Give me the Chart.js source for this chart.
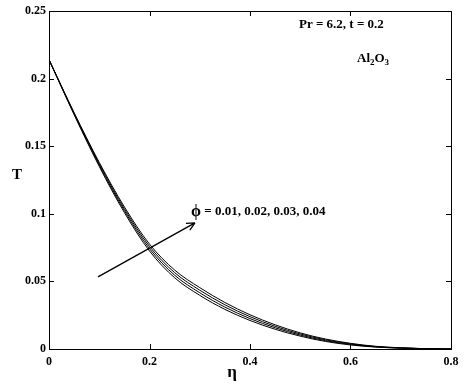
<!DOCTYPE html>
<html>
<head>
<meta charset="utf-8">
<script src="https://cdn.jsdelivr.net/npm/chart.js@4"></script>
<style>
  html, body { margin: 0; padding: 0; background: #fff; }
  #wrap { width: 474px; height: 390px; }
</style>
</head>
<body>
<div id="wrap"><canvas id="myChart" width="474" height="390"></canvas></div>
<script>
var eta = [0, 0.05, 0.1, 0.15, 0.2, 0.25, 0.3, 0.35, 0.4, 0.45, 0.5, 0.55, 0.6, 0.65, 0.7, 0.75, 0.8];
var phiLabels = ['0.01', '0.02', '0.03', '0.04'];
var T_phi1 = [0.214, 0.1733, 0.1350, 0.1009, 0.0725, 0.0527, 0.0397, 0.0293, 0.0211, 0.0146, 0.0095, 0.0056, 0.0030, 0.0014, 0.0006, 0.0002, 0];
var T_phi2 = [0.214, 0.1738, 0.1360, 0.1023, 0.0742, 0.0546, 0.0416, 0.0310, 0.0225, 0.0157, 0.0103, 0.0062, 0.0034, 0.0016, 0.0007, 0.0002, 0];
var T_phi3 = [0.214, 0.1743, 0.1370, 0.1037, 0.0759, 0.0565, 0.0435, 0.0327, 0.0239, 0.0168, 0.0111, 0.0068, 0.0038, 0.0018, 0.0008, 0.0002, 0];
var T_phi4 = [0.214, 0.1748, 0.1380, 0.1051, 0.0776, 0.0584, 0.0454, 0.0344, 0.0253, 0.0179, 0.0119, 0.0074, 0.0042, 0.0020, 0.0009, 0.0002, 0];
var xTicks = [0, 0.2, 0.4, 0.6, 0.8];
var xTickLabels = ['0', '0.2', '0.4', '0.6', '0.8'];
var yTicks = [0, 0.05, 0.1, 0.15, 0.2, 0.25];
var yTickLabels = ['0', '0.05', '0.1', '0.15', '0.2', '0.25'];
// arrow in data coordinates [eta, T]
var arrowFrom = [0.0975, 0.0533];
var arrowTo = [0.2905, 0.0933];

var serif = "'Liberation Serif', 'DejaVu Serif', serif";

function toPoints(vals) {
    return eta.map(function (x, i) { return { x: x, y: vals[i] }; });
}

var allSeries = [T_phi1, T_phi2, T_phi3, T_phi4];
var datasets = allSeries.map(function (vals, i) {
    return {
        label: '\u03d5 = ' + phiLabels[i],
        data: toPoints(vals),
        borderColor: '#000',
        borderWidth: 1,
        pointRadius: 0,
        fill: false,
        cubicInterpolationMode: 'monotone'
    };
});

// box, inward ticks, axis titles and annotations
var decorPlugin = {
    id: 'decor',
    afterDraw: function (chart) {
        var ctx = chart.ctx;
        var xs = chart.scales.x, ys = chart.scales.y;
        var a = chart.chartArea;
        ctx.save();
        ctx.strokeStyle = '#000';
        ctx.lineWidth = 1;
        ctx.strokeRect(a.left + 0.5, a.top + 0.5, a.right - a.left, a.bottom - a.top);
        ctx.beginPath();
        xTicks.forEach(function (v) {
            var px = Math.round(xs.getPixelForValue(v)) + 0.5;
            ctx.moveTo(px, a.bottom); ctx.lineTo(px, a.bottom - 5);
            ctx.moveTo(px, a.top); ctx.lineTo(px, a.top + 5);
        });
        yTicks.forEach(function (v) {
            var py = Math.round(ys.getPixelForValue(v)) + 0.5;
            ctx.moveTo(a.left, py); ctx.lineTo(a.left + 5, py);
            ctx.moveTo(a.right, py); ctx.lineTo(a.right - 5, py);
        });
        ctx.stroke();

        // arrow
        var x1 = xs.getPixelForValue(arrowFrom[0]), y1 = ys.getPixelForValue(arrowFrom[1]);
        var x2 = xs.getPixelForValue(arrowTo[0]), y2 = ys.getPixelForValue(arrowTo[1]);
        var ang = Math.atan2(y2 - y1, x2 - x1);
        ctx.lineWidth = 1.3;
        ctx.beginPath();
        ctx.moveTo(x1, y1); ctx.lineTo(x2, y2);
        ctx.moveTo(x2, y2); ctx.lineTo(x2 - 9 * Math.cos(ang - 0.45), y2 - 9 * Math.sin(ang - 0.45));
        ctx.moveTo(x2, y2); ctx.lineTo(x2 - 9 * Math.cos(ang + 0.45), y2 - 9 * Math.sin(ang + 0.45));
        ctx.stroke();

        ctx.fillStyle = '#000';
        ctx.textBaseline = 'middle';
        // axis titles
        ctx.textAlign = 'center';
        ctx.font = 'bold 17px ' + serif;
        ctx.fillText('\u03b7', 232, 373);
        ctx.font = 'bold 15px ' + serif;
        ctx.fillText('T', 17, 175);

        // annotations
        ctx.textAlign = 'left';
        ctx.font = 'bold 13px ' + serif;
        ctx.fillText('Pr = 6.2, t = 0.2', 299, 25);
        var ax = 357, ay = 59;
        ctx.fillText('Al', ax, ay);
        ax += ctx.measureText('Al').width;
        ctx.font = 'bold 9px ' + serif;
        ctx.fillText('2', ax, ay + 4);
        ax += ctx.measureText('2').width;
        ctx.font = 'bold 13px ' + serif;
        ctx.fillText('O', ax, ay);
        ax += ctx.measureText('O').width;
        ctx.font = 'bold 9px ' + serif;
        ctx.fillText('3', ax, ay + 4);

        ctx.font = 'bold 16px ' + serif;
        ctx.fillText('\u03d5', 191, 212);
        var px0 = 191 + ctx.measureText('\u03d5').width;
        ctx.font = 'bold 13px ' + serif;
        ctx.fillText(' = ' + phiLabels.join(', '), px0, 212);
        ctx.restore();
    }
};

new Chart(document.getElementById('myChart').getContext('2d'), {
    type: 'line',
    data: { datasets: datasets },
    options: {
        responsive: false,
        animation: false,
        layout: { padding: { top: 11, right: 23, left: 0, bottom: 0 } },
        plugins: { legend: { display: false }, tooltip: { enabled: false } },
        scales: {
            x: {
                type: 'linear',
                min: 0, max: 0.8,
                afterFit: function (s) { s.height = 41; },
                afterBuildTicks: function (s) { s.ticks = xTicks.map(function (v) { return { value: v }; }); },
                ticks: {
                    padding: 6,
                    color: '#000',
                    font: { family: serif, size: 12, weight: 'bold' },
                    maxRotation: 0,
                    callback: function (v) { var i = xTicks.indexOf(v); return i < 0 ? '' : xTickLabels[i]; }
                },
                grid: { display: false, drawTicks: false },
                border: { display: false }
            },
            y: {
                type: 'linear',
                min: 0, max: 0.25,
                afterFit: function (s) { s.width = 49; },
                afterBuildTicks: function (s) { s.ticks = yTicks.map(function (v) { return { value: v }; }); },
                ticks: {
                    padding: 3,
                    color: '#000',
                    font: { family: serif, size: 12, weight: 'bold' },
                    callback: function (v) { var i = yTicks.indexOf(v); return i < 0 ? '' : yTickLabels[i]; }
                },
                grid: { display: false, drawTicks: false },
                border: { display: false }
            }
        }
    },
    plugins: [decorPlugin]
});
</script>
</body>
</html>
